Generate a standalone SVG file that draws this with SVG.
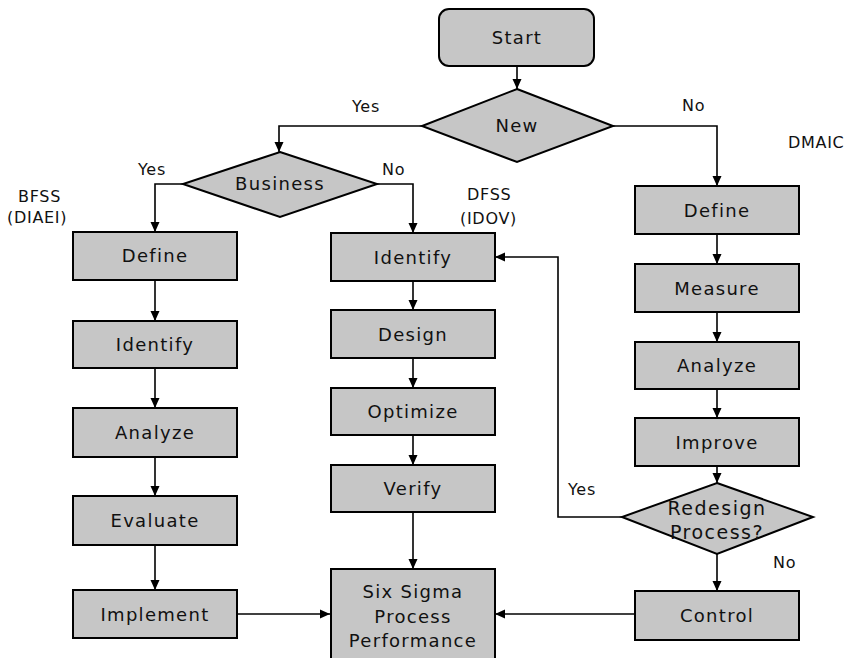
<svg xmlns="http://www.w3.org/2000/svg" width="857" height="658" viewBox="0 0 857 658">
<style>
.box{fill:#c6c6c6;stroke:#000;stroke-width:2}
.t{font-family:"DejaVu Sans","Liberation Sans",sans-serif;font-size:18px;letter-spacing:1.3px;text-anchor:middle;fill:#111}
.big{font-size:19px;letter-spacing:1.5px}
.lbl{font-family:"DejaVu Sans","Liberation Sans",sans-serif;font-size:16px;letter-spacing:0.7px;fill:#111}
.c{fill:none;stroke:#000;stroke-width:1.6}
</style>
<defs>
<marker id="ah" markerUnits="userSpaceOnUse" markerWidth="10" markerHeight="10" refX="10" refY="5" orient="auto">
<path d="M0,0.5 L10,5 L0,9.5 z" fill="#000"/>
</marker>
</defs>
<rect width="857" height="658" fill="#fff"/>
<g id="connectors">
<path class="c" d="M517,66 V89" marker-end="url(#ah)"/>
<path class="c" d="M422,126 H279 V152" marker-end="url(#ah)"/>
<path class="c" d="M613,126 H717 V186" marker-end="url(#ah)"/>
<path class="c" d="M183,184 H155 V232" marker-end="url(#ah)"/>
<path class="c" d="M377,184 H413 V233" marker-end="url(#ah)"/>
<path class="c" d="M155,280 V321" marker-end="url(#ah)"/>
<path class="c" d="M155,368 V408" marker-end="url(#ah)"/>
<path class="c" d="M155,457 V496" marker-end="url(#ah)"/>
<path class="c" d="M155,545 V590" marker-end="url(#ah)"/>
<path class="c" d="M413,281 V310" marker-end="url(#ah)"/>
<path class="c" d="M413,358 V388" marker-end="url(#ah)"/>
<path class="c" d="M413,435 V465" marker-end="url(#ah)"/>
<path class="c" d="M413,512 V569" marker-end="url(#ah)"/>
<path class="c" d="M717,234 V264" marker-end="url(#ah)"/>
<path class="c" d="M717,312 V342" marker-end="url(#ah)"/>
<path class="c" d="M717,389 V418" marker-end="url(#ah)"/>
<path class="c" d="M717,466 V483" marker-end="url(#ah)"/>
<path class="c" d="M717,554 V591" marker-end="url(#ah)"/>
<path class="c" d="M237,614 H330" marker-end="url(#ah)"/>
<path class="c" d="M635,614 H495" marker-end="url(#ah)"/>
<path class="c" d="M622,517 H558 V257 H495" marker-end="url(#ah)"/>
</g>
<g id="labels">
<text class="lbl" x="352" y="112">Yes</text>
<text class="lbl" x="682" y="111">No</text>
<text class="lbl" x="788" y="148">DMAIC</text>
<text class="lbl" x="138" y="175">Yes</text>
<text class="lbl" x="382" y="175">No</text>
<text class="lbl" x="18" y="202">BFSS</text>
<text class="lbl" x="7" y="223">(DIAEI)</text>
<text class="lbl" x="467" y="200">DFSS</text>
<text class="lbl" x="460" y="224">(IDOV)</text>
<text class="lbl" x="568" y="495">Yes</text>
<text class="lbl" x="773" y="568">No</text>
</g>
<g id="start"><rect class="box" x="439" y="9" width="155" height="57" rx="10"/><text class="t" x="517" y="44">Start</text></g>
<g id="new"><polygon class="box" points="517,89 613,126 517,162 422,126"/><text class="t" x="517" y="132">New</text></g>
<g id="business"><polygon class="box" points="280,152 377,184 280,217 183,184"/><text class="t" x="280" y="190">Business</text></g>
<g id="bfss-define"><rect class="box" x="73" y="232" width="164" height="48"/><text class="t" x="155" y="262">Define</text></g>
<g id="bfss-identify"><rect class="box" x="73" y="321" width="164" height="47"/><text class="t" x="155" y="351">Identify</text></g>
<g id="bfss-analyze"><rect class="box" x="73" y="408" width="164" height="49"/><text class="t" x="155" y="439">Analyze</text></g>
<g id="bfss-evaluate"><rect class="box" x="73" y="496" width="164" height="49"/><text class="t" x="155" y="527">Evaluate</text></g>
<g id="bfss-implement"><rect class="box" x="73" y="590" width="164" height="48"/><text class="t" x="155" y="621">Implement</text></g>
<g id="dfss-identify"><rect class="box" x="331" y="233" width="164" height="48"/><text class="t" x="413" y="264">Identify</text></g>
<g id="dfss-design"><rect class="box" x="331" y="310" width="164" height="48"/><text class="t" x="413" y="341">Design</text></g>
<g id="dfss-optimize"><rect class="box" x="331" y="388" width="164" height="47"/><text class="t" x="413" y="418">Optimize</text></g>
<g id="dfss-verify"><rect class="box" x="331" y="465" width="164" height="47"/><text class="t" x="413" y="495">Verify</text></g>
<g id="six-sigma"><rect class="box" x="331" y="569" width="164" height="100"/><text class="t" x="413" y="598">Six Sigma</text><text class="t" x="413" y="623">Process</text><text class="t" x="413" y="647">Performance</text></g>
<g id="dmaic-define"><rect class="box" x="635" y="186" width="164" height="48"/><text class="t" x="717" y="217">Define</text></g>
<g id="dmaic-measure"><rect class="box" x="635" y="264" width="164" height="48"/><text class="t" x="717" y="295">Measure</text></g>
<g id="dmaic-analyze"><rect class="box" x="635" y="342" width="164" height="47"/><text class="t" x="717" y="372">Analyze</text></g>
<g id="dmaic-improve"><rect class="box" x="635" y="418" width="164" height="48"/><text class="t" x="717" y="449">Improve</text></g>
<g id="redesign"><polygon class="box" points="717,483 813,517 717,554 622,517"/><text class="t big" x="717" y="515">Redesign</text><text class="t big" x="717" y="539">Process?</text></g>
<g id="dmaic-control"><rect class="box" x="635" y="591" width="164" height="49"/><text class="t" x="717" y="622">Control</text></g>
</svg>
